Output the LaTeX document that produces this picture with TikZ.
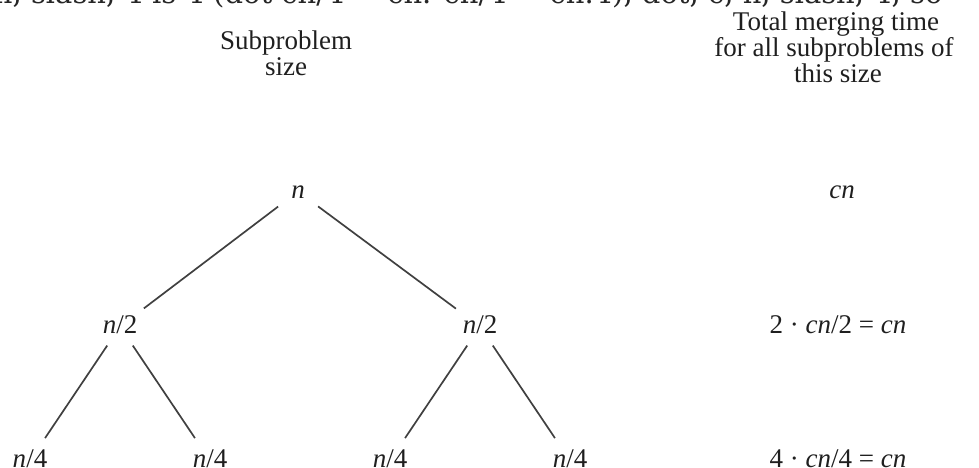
\documentclass[tikz,border=0pt]{standalone}
\usepackage{fontspec}
\setmainfont{Liberation Serif}
\newfontfamily\capfont{DejaVu Serif}
\begin{document}
\begin{tikzpicture}[x=1pt,y=-1pt,
  every node/.style={inner sep=0pt,outer sep=0pt,text=black!88,font=\fontsize{27}{27}\selectfont},
  hdr/.style={anchor=base},
  tn/.style={anchor=center,text height=18pt,text depth=5pt},
  sm/.style={anchor=base},
  edge/.style={draw=black!75,line width=1.7pt},
  topedge/.style={edge,shorten <=25pt,shorten >=30pt},
  lowedge/.style={edge,shorten <=23pt,shorten >=27pt}]
\useasboundingbox (0,0) rectangle (979,468);
\begin{scope}
\clip (0,0) rectangle (979,468);
\node[anchor=base west,font=\capfont\fontsize{29}{29}\selectfont,text=black!85] (cap) at (-6,4) {n, slash, 4 is 4 (dot cn/4 = cn. cn/4 = cn.4), dot, c, n, slash, 4, so};
\end{scope}
% headers
\node[hdr] (h1a) at (286,50) {Subproblem};
\node[hdr] (h1b) at (286,76) {size};
\node[hdr] (h2a) at (836,31) {Total merging time};
\node[hdr] (h2b) at (834,57) {for all subproblems of};
\node[hdr] (h2c) at (838,83) {this size};
% tree
\node[tn] (n) at (298,191.5) {\itshape n};
\node[tn] (l2) at (120,326.5) {{\itshape n}/2};
\node[tn] (r2) at (480,326.5) {{\itshape n}/2};
\node[tn] (a4) at (30,460.5) {{\itshape n}/4};
\node[tn] (b4) at (210,460.5) {{\itshape n}/4};
\node[tn] (c4) at (390,460.5) {{\itshape n}/4};
\node[tn] (d4) at (570,460.5) {{\itshape n}/4};
% totals
\node[sm] (t0) at (842,198) {\itshape cn};
\node[sm] (t1) at (838,333) {2 · {\itshape cn}/2 = {\itshape cn}};
\node[sm] (t2) at (838,467) {4 · {\itshape cn}/4 = {\itshape cn}};
% edges
\draw[topedge] (n.center) -- (l2.center);
\draw[topedge] (n.center) -- (r2.center);
\draw[lowedge] (l2.center) -- (a4.center);
\draw[lowedge] (l2.center) -- (b4.center);
\draw[lowedge] (r2.center) -- (c4.center);
\draw[lowedge] (r2.center) -- (d4.center);
\end{tikzpicture}
\end{document}
